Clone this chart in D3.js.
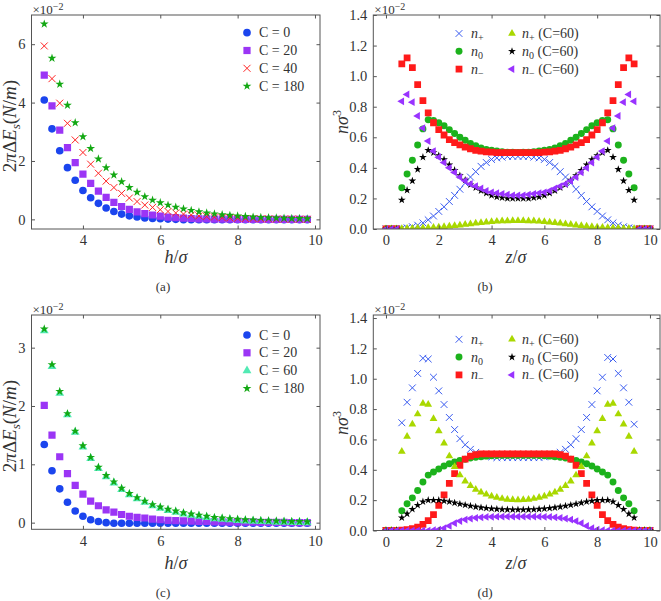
<!DOCTYPE html>
<html><head><meta charset="utf-8">
<script src="https://cdn.jsdelivr.net/npm/d3@7"></script>
<style>
body{margin:0;background:#fff}
svg{display:block}
text{font-family:"Liberation Serif","Times New Roman","DejaVu Serif",serif;fill:#333}
</style>
</head><body>
<svg id="chart" width="661" height="601"></svg>
<script>
// ---------- DATA ----------
const hVals=[3.0,3.2,3.4,3.6,3.8,4.0,4.2,4.4,4.6,4.8,5.0,5.2,5.4,5.6,5.8,6.0,6.2,6.4,6.6,6.8,7.0,7.2,7.4,7.6,7.8,8.0,8.2,8.4,8.6,8.8,9.0,9.2,9.4,9.6,9.8];
// panel (a), units of 1e-2
const aC0=[4.09,3.10,2.35,1.77,1.34,0.99,0.74,0.55,0.39,0.27,0.18,0.12,0.08,0.05,0.03,0.02,0.01,0.0,-0.01,-0.01,-0.01,-0.01,-0.01,-0.01,-0.01,-0.01,-0.01,-0.01,-0.01,-0.01,-0.01,-0.01,-0.01,-0.01,-0.01];
const aC20=[4.94,3.89,3.06,2.46,1.94,1.55,1.23,0.97,0.75,0.58,0.44,0.34,0.26,0.20,0.15,0.11,0.08,0.06,0.04,0.03,0.02,0.02,0.01,0.01,0.01,0.0,0.0,0.0,0.0,0.0,0.0,0.0,0.0,0.0,0.0];
const aC40=[5.94,4.82,3.98,3.29,2.72,2.29,1.89,1.58,1.31,1.09,0.89,0.73,0.61,0.49,0.41,0.33,0.27,0.22,0.18,0.15,0.12,0.10,0.08,0.06,0.05,0.04,0.03,0.03,0.02,0.02,0.01,0.01,0.01,0.01,0.0];
const aC180=[6.69,5.52,4.63,3.91,3.31,2.83,2.43,2.07,1.77,1.52,1.29,1.09,0.93,0.78,0.66,0.57,0.49,0.42,0.36,0.31,0.26,0.22,0.19,0.16,0.14,0.12,0.10,0.08,0.07,0.06,0.05,0.04,0.03,0.03,0.02];
// panel (c), units of 1e-2
const cC0=[1.34,0.89,0.58,0.35,0.20,0.11,0.05,0.02,0.0,-0.01,-0.01,-0.01,-0.01,-0.01,-0.01,-0.01,-0.01,-0.01,-0.01,-0.01,-0.01,-0.01,-0.01,-0.01,-0.01,-0.01,-0.01,-0.01,-0.01,-0.01,-0.01,-0.01,-0.01,-0.01,-0.01];
const cC20=[2.01,1.50,1.13,0.84,0.64,0.49,0.37,0.29,0.22,0.18,0.14,0.11,0.09,0.08,0.06,0.05,0.04,0.035,0.03,0.025,0.02,0.02,0.015,0.015,0.01,0.01,0.01,0.01,0.005,0.005,0.005,0.005,0.0,0.0,0.0];
const cC60=[3.29,2.68,2.22,1.85,1.55,1.30,1.10,0.93,0.79,0.68,0.57,0.48,0.41,0.35,0.29,0.25,0.21,0.18,0.15,0.13,0.11,0.09,0.07,0.06,0.05,0.04,0.03,0.025,0.02,0.015,0.01,0.01,0.005,0.005,0.0];
const cC180=[3.32,2.71,2.25,1.87,1.57,1.32,1.12,0.95,0.81,0.70,0.59,0.50,0.43,0.37,0.31,0.27,0.23,0.20,0.17,0.15,0.13,0.11,0.09,0.08,0.07,0.06,0.05,0.045,0.04,0.035,0.03,0.025,0.02,0.02,0.015];

const zVals=[0,0.2,0.4,0.6,0.8,1.0,1.2,1.4,1.6,1.8,2.0,2.2,2.4,2.6,2.8,3.0,3.2,3.4,3.6,3.8,4.0,4.2,4.4,4.6,4.8,5.0,5.2,5.4,5.6,5.8,6.0,6.2,6.4,6.6,6.8,7.0,7.2,7.4,7.6,7.8,8.0,8.2,8.4,8.6,8.8,9.0,9.2,9.4,9.6,9.8,10.0];
// panel (b), units of 1e-2
const bNplus=[0,0,0,0.004,0.008,0.015,0.025,0.04,0.06,0.085,0.115,0.145,0.18,0.22,0.26,0.30,0.34,0.375,0.41,0.435,0.455,0.465,0.47,0.475,0.475,0.475,
 0.475,0.475,0.47,0.465,0.455,0.435,0.41,0.375,0.34,0.30,0.26,0.22,0.18,0.145,0.115,0.085,0.06,0.04,0.025,0.015,0.008,0.004,0,0,0];
const bN0=[0,0,0,0.27,0.36,0.45,0.55,0.655,0.715,0.71,0.695,0.675,0.65,0.625,0.60,0.58,0.56,0.545,0.53,0.52,0.515,0.51,0.505,0.503,0.502,0.50,
 0.502,0.503,0.505,0.51,0.515,0.52,0.53,0.545,0.56,0.58,0.60,0.625,0.65,0.675,0.695,0.71,0.715,0.655,0.55,0.45,0.36,0.27,0,0,0];
const bNminus=[0,0,0,1.08,1.12,1.056,0.945,0.84,0.76,0.695,0.65,0.615,0.585,0.565,0.55,0.535,0.525,0.515,0.51,0.505,0.503,0.50,0.50,0.50,0.50,0.50,
 0.50,0.50,0.50,0.50,0.503,0.505,0.51,0.515,0.525,0.535,0.55,0.565,0.585,0.615,0.65,0.695,0.76,0.84,0.945,1.056,1.12,1.08,0,0,0];
const bNplus60=[0,0,0,0.002,0.003,0.004,0.005,0.006,0.008,0.01,0.012,0.015,0.018,0.021,0.025,0.029,0.033,0.037,0.041,0.044,0.047,0.05,0.052,0.053,0.054,0.054,
 0.054,0.053,0.052,0.05,0.047,0.044,0.041,0.037,0.033,0.029,0.025,0.021,0.018,0.015,0.012,0.01,0.008,0.006,0.005,0.004,0.003,0.002,0,0,0];
const bN060=[0,0,0,0.19,0.254,0.315,0.39,0.47,0.515,0.50,0.48,0.455,0.42,0.385,0.35,0.32,0.29,0.27,0.25,0.235,0.22,0.21,0.205,0.20,0.20,0.20,
 0.20,0.20,0.205,0.21,0.22,0.235,0.25,0.27,0.29,0.32,0.35,0.385,0.42,0.455,0.48,0.50,0.515,0.47,0.39,0.315,0.254,0.19,0,0,0];
const bNminus60=[0,0,0,0.835,0.88,0.83,0.74,0.66,0.575,0.51,0.47,0.435,0.40,0.37,0.34,0.315,0.295,0.28,0.265,0.25,0.24,0.235,0.23,0.225,0.22,0.22,
 0.22,0.225,0.23,0.235,0.24,0.25,0.265,0.28,0.295,0.315,0.34,0.37,0.40,0.435,0.47,0.51,0.575,0.66,0.74,0.83,0.88,0.835,0,0,0];
// panel (d), units of 1e-2
const dNplus=[0,0,0,0.71,0.845,0.94,1.035,1.135,1.13,1.01,0.92,0.83,0.745,0.665,0.605,0.565,0.535,0.515,0.50,0.49,0.485,0.48,0.48,0.48,0.48,0.48,
 0.48,0.48,0.48,0.48,0.485,0.49,0.50,0.515,0.535,0.565,0.605,0.665,0.745,0.83,0.92,1.01,1.14,1.13,1.035,0.94,0.845,0.70,0,0,0];
const dN0=[0,0,0,0.13,0.176,0.215,0.263,0.32,0.365,0.385,0.405,0.425,0.44,0.452,0.462,0.47,0.477,0.482,0.486,0.49,0.492,0.494,0.495,0.495,0.495,0.495,
 0.495,0.495,0.495,0.494,0.492,0.49,0.486,0.482,0.477,0.47,0.462,0.452,0.44,0.425,0.405,0.385,0.365,0.32,0.263,0.215,0.176,0.13,0,0,0];
const dNminus=[0,0,0,0.003,0.006,0.012,0.022,0.04,0.065,0.105,0.165,0.235,0.31,0.375,0.43,0.47,0.49,0.50,0.505,0.505,0.505,0.505,0.505,0.505,0.505,0.505,
 0.505,0.505,0.505,0.505,0.505,0.505,0.505,0.50,0.49,0.47,0.43,0.375,0.31,0.235,0.165,0.105,0.065,0.04,0.022,0.012,0.006,0.003,0,0,0];
const dNplus60=[0,0,0,0.52,0.62,0.70,0.767,0.837,0.83,0.736,0.655,0.575,0.49,0.42,0.365,0.325,0.295,0.27,0.252,0.238,0.226,0.217,0.21,0.205,0.202,0.201,
 0.202,0.205,0.21,0.217,0.226,0.238,0.252,0.27,0.295,0.325,0.365,0.42,0.49,0.575,0.655,0.736,0.83,0.837,0.767,0.70,0.62,0.52,0,0,0];
const dN060=[0,0,0,0.084,0.11,0.14,0.167,0.19,0.20,0.20,0.20,0.195,0.19,0.182,0.175,0.168,0.162,0.156,0.151,0.147,0.144,0.141,0.139,0.138,0.137,0.137,
 0.137,0.138,0.139,0.141,0.144,0.147,0.151,0.156,0.162,0.168,0.175,0.182,0.19,0.195,0.20,0.20,0.20,0.19,0.167,0.14,0.11,0.084,0,0,0];
const dNminus60=[0,0,0,0,0,0,0,0,0,0.002,0.006,0.015,0.03,0.048,0.062,0.072,0.079,0.084,0.087,0.089,0.09,0.091,0.092,0.092,0.092,0.092,
 0.092,0.092,0.092,0.091,0.09,0.089,0.087,0.084,0.079,0.072,0.062,0.048,0.03,0.015,0.006,0.002,0,0,0,0,0,0,0,0,0];

// tick labels
const hTicks=[4,6,8,10];
const aYTicks=[0,2,4,6];
const cYTicks=[0,1,2,3];
const zTicks=[0,2,4,6,8,10];
const nTicks=[0,0.2,0.4,0.6,0.8,1.0,1.2,1.4];
const legendAC=["C = 0","C = 20","C = 40","C = 180"];
const legendC=["C = 0","C = 20","C = 60","C = 180"];

// ---------- DRAW ----------
const svg=d3.select("#chart");
const COL={blue:"#1b45ee",purple:"#9b35f5",red:"#ff2424",green:"#13a813",aqua:"#52eab4",
  xblue:"#3a5cf0",cgreen:"#1cb21c",sred:"#ff1a1a",ygreen:"#a9d800",black:"#000",ptri:"#9933ff"};

function sym(type,size){
  if(type==="x"){const a=size;return `M${-a},${-a}L${a},${a}M${-a},${a}L${a},${-a}`;}
  const m={circle:d3.symbolCircle,square:d3.symbolSquare,star:d3.symbolStar,tri:d3.symbolTriangle,tril:d3.symbolTriangle}[type];
  return d3.symbol(m,size)();
}
function drawMarker(g,type,color,size,x,y){
  const p=g.append("path").attr("d",sym(type,size)).attr("transform",`translate(${x},${y})`+(type==="tril"?" rotate(-90)":""));
  if(type==="x") p.attr("fill","none").attr("stroke",color).attr("stroke-width",1);
  else p.attr("fill",color);
  return p;
}

let clipId=0;
function panel(o){
  const x=d3.scaleLinear().domain(o.xd).range([o.L,o.R]);
  const y=d3.scaleLinear().domain(o.yd).range([o.B,o.T]);
  const g=svg.append("g");
  const cid="clip"+(clipId++);
  svg.append("clipPath").attr("id",cid).append("rect").attr("x",o.L).attr("y",o.T).attr("width",o.R-o.L).attr("height",o.B-o.T);
  const mg=g.append("g").attr("clip-path",`url(#${cid})`);
  o.series.forEach(s=>{
    const sg=mg.append("g");
    s.v.forEach((v,i)=>drawMarker(sg,s.type,s.color,s.size,x(o.xs[i]),y(v)));
  });
  const tk=3.5;
  const ax=g.append("g").attr("transform",`translate(0,${o.B})`).call(d3.axisBottom(x).tickValues(o.xt).tickSize(-tk).tickPadding(6).tickFormat(o.xf));
  const axT=g.append("g").attr("transform",`translate(0,${o.T})`).call(d3.axisTop(x).tickValues(o.xt).tickSize(-tk).tickFormat(""));
  const ay=g.append("g").attr("transform",`translate(${o.L},0)`).call(d3.axisLeft(y).tickValues(o.yt).tickSize(-tk).tickPadding(6).tickFormat(o.yf));
  const ayR=g.append("g").attr("transform",`translate(${o.R},0)`).call(d3.axisRight(y).tickValues(o.yt).tickSize(-tk).tickFormat(""));
  [ax,axT,ay,ayR].forEach(a=>{a.select(".domain").remove();a.selectAll("line").attr("stroke","#555");
    a.selectAll("text").attr("font-size",14.5).attr("fill","#444");});
  g.append("rect").attr("x",o.L).attr("y",o.T).attr("width",o.R-o.L).attr("height",o.B-o.T)
   .attr("fill","none").attr("stroke","#555").attr("stroke-width",1);
  const ex=g.append("text").attr("x",o.L+1).attr("y",o.T-1.5).attr("font-size",13).attr("fill","#444");
  ex.append("tspan").text("×10");
  ex.append("tspan").attr("dy",-4).attr("font-size",10).text("−2");
  o.legend.forEach((e)=>{
    drawMarker(g,e.type,e.color,e.size,e.mx,e.my);
    const t=g.append("text").attr("x",e.tx).attr("y",e.my+4.5).attr("font-size",14).attr("fill","#333");
    e.label(t);
  });
  return {x,y,g};
}

function plainLabel(s){return t=>t.text(s);}
function nLabel(sub,extra){return t=>{
  t.append("tspan").attr("font-style","italic").text("n");
  t.append("tspan").attr("font-size",10).attr("dy",3).text(sub);
  t.append("tspan").attr("dy",-3).text(extra?" (C=60)":"");
};}

const fmtInt=d=>String(d), fmt1=d3.format(".1f");

const ACsz={circle:46,square:52,x:3.5,star:24,tri:34};
const BDsz={circle:38,square:46,x:3.4,star:19,tri:26};

function legAC(top,labels,types){
  return labels.map((l,i)=>({type:types[i].t,color:types[i].c,size:types[i].s,mx:247,my:top+i*17.8,tx:259,label:plainLabel(l)}));
}
const typesA=[{t:"circle",c:COL.blue,s:ACsz.circle},{t:"square",c:COL.purple,s:ACsz.square},{t:"x",c:COL.red,s:ACsz.x},{t:"star",c:COL.green,s:ACsz.star}];
const typesC=[{t:"circle",c:COL.blue,s:ACsz.circle},{t:"square",c:COL.purple,s:ACsz.square},{t:"tri",c:COL.aqua,s:ACsz.tri},{t:"star",c:COL.green,s:ACsz.star}];

panel({L:31.5,R:320,T:15,B:229,xd:[2.67,10.13],yd:[-0.33,7.0],xs:hVals,xt:hTicks,yt:aYTicks,xf:fmtInt,yf:fmtInt,
  series:[aC0,aC20,aC40,aC180].map((v,i)=>({v,type:typesA[i].t,color:typesA[i].c,size:typesA[i].s})),
  legend:legAC(32.7,legendAC,typesA)});
panel({L:31.5,R:320,T:315,B:529.3,xd:[2.67,10.13],yd:[-0.114,3.56],xs:hVals,xt:hTicks,yt:cYTicks,xf:fmtInt,yf:fmtInt,
  series:[cC0,cC20,cC60,cC180].map((v,i)=>({v,type:typesC[i].t,color:typesC[i].c,size:typesC[i].s})),
  legend:legAC(335,legendC,typesC)});

const typesB=[{t:"x",c:COL.xblue,s:BDsz.x,l:nLabel("+",false)},{t:"circle",c:COL.cgreen,s:BDsz.circle,l:nLabel("0",false)},{t:"square",c:COL.sred,s:BDsz.square,l:nLabel("−",false)},
  {t:"tri",c:COL.ygreen,s:BDsz.tri,l:nLabel("+",true)},{t:"star",c:COL.black,s:BDsz.star,l:nLabel("0",true)},{t:"tril",c:COL.ptri,s:BDsz.tri,l:nLabel("−",true)}];
function legBD(top){
  return typesB.map((e,i)=>{const col=i<3?0:1,row=i%3;
    return {type:e.t,color:e.c,size:e.s,mx:col?512:459,my:top+row*17.8,tx:col?522:471,label:e.l};});
}
panel({L:373.3,R:660,T:15,B:229,xd:[-0.48,10.38],yd:[0,1.4],xs:zVals,xt:zTicks,yt:nTicks,xf:fmtInt,yf:fmt1,
  series:[bNplus,bN0,bNminus,bNplus60,bN060,bNminus60].map((v,i)=>({v,type:typesB[i].t,color:typesB[i].c,size:typesB[i].s})),
  legend:legBD(33.5)});
panel({L:373.3,R:660,T:315,B:530.5,xd:[-0.48,10.38],yd:[0,1.42],xs:zVals,xt:zTicks,yt:nTicks,xf:fmtInt,yf:fmt1,
  series:[dNplus,dN0,dNminus,dNplus60,dN060,dNminus60].map((v,i)=>({v,type:typesB[i].t,color:typesB[i].c,size:typesB[i].s})),
  legend:legBD(339.3)});

// axis labels
function ylabelE(x,y){
  const t=svg.append("text").attr("transform",`translate(${x},${y}) rotate(-90)`).attr("text-anchor","middle").attr("font-size",19).attr("fill","#333");
  t.append("tspan").text("2");
  t.append("tspan").attr("font-style","italic").text("π");
  t.append("tspan").text("Δ");
  t.append("tspan").attr("font-style","italic").text("E");
  t.append("tspan").attr("font-style","italic").attr("font-size",13).attr("dy",4).text("s");
  t.append("tspan").attr("dy",-4).text("(");
  t.append("tspan").attr("font-style","italic").text("N");
  t.append("tspan").text("/");
  t.append("tspan").attr("font-style","italic").text("m");
  t.append("tspan").text(")");
}
function ylabelN(x,y){
  const t=svg.append("text").attr("transform",`translate(${x},${y}) rotate(-90)`).attr("text-anchor","middle").attr("font-size",18).attr("fill","#333");
  t.append("tspan").attr("font-style","italic").text("nσ");
  t.append("tspan").attr("font-size",12).attr("dy",-7).text("3");
}
function xlabel(x,y,v){
  const t=svg.append("text").attr("x",x).attr("y",y).attr("text-anchor","middle").attr("font-size",18).attr("fill","#333");
  t.append("tspan").attr("font-style","italic").text(v);
  t.append("tspan").text("/");
  t.append("tspan").attr("font-style","italic").text("σ");
}
function caption(x,y,s){svg.append("text").attr("x",x).attr("y",y).attr("text-anchor","middle").attr("font-size",13).attr("fill","#222").text(s);}

ylabelE(16,126); ylabelE(16,426);
ylabelN(348,122); ylabelN(348,423);
xlabel(176,263,"h"); xlabel(176,569,"h");
xlabel(516,263,"z"); xlabel(516,569,"z");
caption(163,291,"(a)"); caption(485,291,"(b)");
caption(163,597,"(c)"); caption(485,597,"(d)");
</script>
</body></html>
